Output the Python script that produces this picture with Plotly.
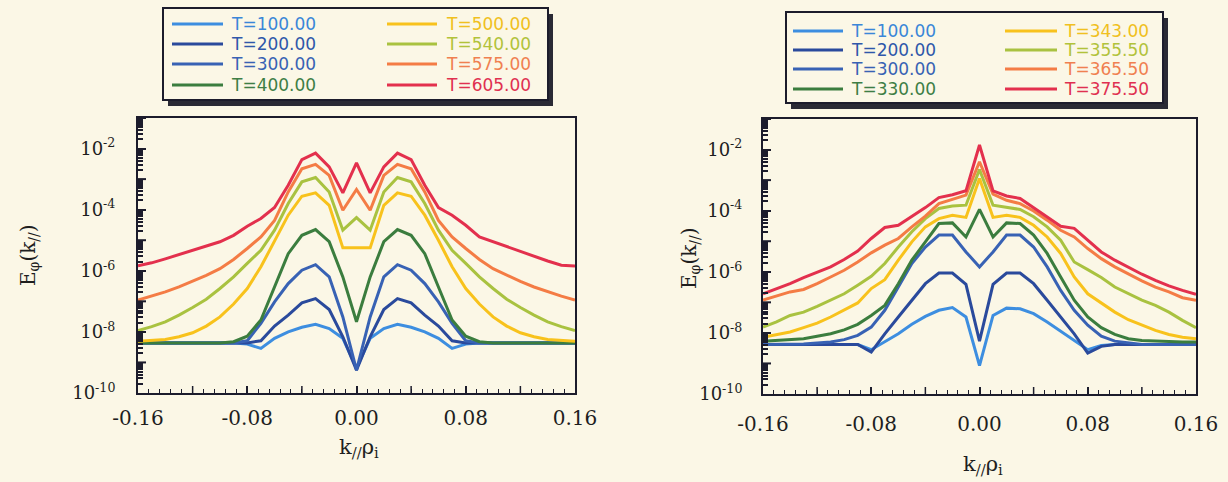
import plotly.graph_objects as go

W, H = 1228, 482

# ---------------- data ----------------
K_PAR = [-0.16, -0.15, -0.14, -0.13, -0.12, -0.11, -0.10, -0.09, -0.08, -0.07, -0.06,
         -0.05, -0.04, -0.03, -0.02, -0.01, 0.00, 0.01, 0.02, 0.03, 0.04, 0.05,
         0.06, 0.07, 0.08, 0.09, 0.10, 0.11, 0.12, 0.13, 0.14, 0.15, 0.16]

# left panel : log10 of E_phi(k//)
LEFT_LABELS = ["T=100.00", "T=200.00", "T=300.00", "T=400.00",
               "T=500.00", "T=540.00", "T=575.00", "T=605.00"]
L_T100 = [-8.36, -8.36, -8.36, -8.36, -8.36, -8.36, -8.36, -8.36, -8.40, -8.54, -8.21,
          -8.00, -7.85, -7.75, -7.89, -8.21, -9.19, -8.21, -7.89, -7.75, -7.85, -8.00,
          -8.21, -8.54, -8.40, -8.36, -8.36, -8.36, -8.36, -8.36, -8.36, -8.36, -8.36]
L_T200 = [-8.36, -8.36, -8.36, -8.36, -8.36, -8.36, -8.36, -8.36, -8.36, -8.29, -7.81,
          -7.45, -7.05, -6.91, -7.27, -8.16, -9.25, -8.16, -7.27, -6.91, -7.05, -7.45,
          -7.81, -8.29, -8.36, -8.36, -8.36, -8.36, -8.36, -8.36, -8.36, -8.36, -8.36]
L_T300 = [-8.36, -8.36, -8.36, -8.36, -8.36, -8.36, -8.36, -8.36, -8.29, -7.72, -7.02,
          -6.42, -5.98, -5.80, -6.20, -7.51, -9.25, -7.51, -6.20, -5.80, -5.98, -6.42,
          -7.02, -7.72, -8.29, -8.36, -8.36, -8.36, -8.36, -8.36, -8.36, -8.36, -8.36]
L_T400 = [-8.36, -8.36, -8.36, -8.36, -8.36, -8.36, -8.36, -8.32, -8.14, -7.61, -6.53,
          -5.44, -4.84, -4.65, -5.05, -6.20, -7.67, -6.20, -5.05, -4.65, -4.84, -5.44,
          -6.53, -7.61, -8.14, -8.32, -8.36, -8.36, -8.36, -8.36, -8.36, -8.36, -8.36]
L_T500 = [-8.31, -8.29, -8.25, -8.16, -8.03, -7.81, -7.51, -7.09, -6.58, -5.87, -5.00,
          -4.18, -3.56, -3.45, -3.86, -5.25, -5.25, -5.25, -3.86, -3.45, -3.56, -4.18,
          -5.00, -5.87, -6.58, -7.09, -7.51, -7.81, -8.03, -8.16, -8.25, -8.29, -8.31]
L_T540 = [-7.96, -7.83, -7.67, -7.45, -7.20, -6.93, -6.58, -6.20, -5.76, -5.33, -4.67,
          -3.80, -3.09, -2.95, -3.42, -4.67, -4.26, -4.67, -3.42, -2.95, -3.09, -3.80,
          -4.67, -5.33, -5.76, -6.20, -6.58, -6.93, -7.20, -7.45, -7.67, -7.83, -7.96]
L_T575 = [-6.96, -6.83, -6.69, -6.53, -6.35, -6.15, -5.93, -5.63, -5.27, -4.89, -4.35,
          -3.42, -2.66, -2.52, -2.88, -4.02, -3.34, -4.02, -2.88, -2.52, -2.66, -3.42,
          -4.35, -4.89, -5.27, -5.63, -5.93, -6.15, -6.35, -6.53, -6.69, -6.83, -6.96]
L_T605 = [-5.84, -5.74, -5.61, -5.47, -5.35, -5.20, -5.05, -4.84, -4.54, -4.29, -3.93,
          -3.20, -2.36, -2.15, -2.60, -3.45, -2.47, -3.45, -2.60, -2.15, -2.36, -3.20,
          -3.93, -4.18, -4.51, -4.89, -5.05, -5.20, -5.38, -5.52, -5.68, -5.82, -5.84]

# right panel : log10 of E_phi(k//)
RIGHT_LABELS = ["T=100.00", "T=200.00", "T=300.00", "T=330.00",
                "T=343.00", "T=355.50", "T=365.50", "T=375.50"]
R_T100 = [-8.38, -8.38, -8.38, -8.38, -8.38, -8.38, -8.38, -8.38, -8.55, -8.30, -8.03,
          -7.72, -7.46, -7.26, -7.17, -7.48, -9.07, -7.43, -7.19, -7.21, -7.37, -7.64,
          -7.94, -8.25, -8.55, -8.41, -8.38, -8.38, -8.38, -8.38, -8.38, -8.38, -8.38]
R_T200 = [-8.38, -8.38, -8.38, -8.38, -8.38, -8.38, -8.38, -8.38, -8.63, -8.03, -7.48,
          -6.93, -6.39, -6.04, -6.04, -6.41, -8.27, -6.41, -6.04, -6.04, -6.39, -6.93,
          -7.48, -8.03, -8.66, -8.44, -8.38, -8.38, -8.38, -8.38, -8.38, -8.38, -8.38]
R_T300 = [-8.38, -8.38, -8.38, -8.36, -8.33, -8.30, -8.22, -8.08, -7.81, -7.26, -6.50,
          -5.73, -5.19, -4.80, -4.80, -5.35, -5.84, -5.35, -4.80, -4.80, -5.19, -5.84,
          -6.61, -7.26, -7.75, -8.11, -8.27, -8.33, -8.38, -8.38, -8.38, -8.38, -8.38]
R_T330 = [-8.27, -8.25, -8.22, -8.19, -8.11, -8.03, -7.90, -7.72, -7.43, -7.10, -6.39,
          -5.62, -5.02, -4.42, -4.40, -4.86, -3.96, -4.86, -4.40, -4.42, -4.80, -5.40,
          -6.17, -6.93, -7.48, -7.83, -8.05, -8.19, -8.25, -8.27, -8.30, -8.30, -8.30]
R_T343 = [-8.14, -8.05, -7.97, -7.83, -7.68, -7.48, -7.26, -7.02, -6.55, -6.26, -5.62,
          -5.02, -4.53, -4.26, -4.15, -4.22, -2.95, -4.22, -4.15, -4.22, -4.48, -4.86,
          -5.40, -6.17, -6.72, -7.02, -7.32, -7.57, -7.75, -7.92, -8.05, -8.14, -8.19]
R_T355 = [-7.81, -7.64, -7.43, -7.32, -7.13, -6.93, -6.72, -6.44, -6.15, -5.73, -5.19,
          -4.69, -4.26, -3.93, -3.85, -3.82, -2.65, -3.82, -3.90, -3.96, -4.20, -4.53,
          -4.97, -5.68, -5.93, -6.19, -6.50, -6.72, -6.93, -7.10, -7.32, -7.59, -7.83]
R_T365 = [-6.93, -6.80, -6.66, -6.58, -6.39, -6.17, -5.95, -5.68, -5.38, -5.13, -4.91,
          -4.53, -4.18, -3.77, -3.63, -3.49, -2.40, -3.46, -3.66, -3.77, -4.01, -4.31,
          -4.64, -4.86, -5.24, -5.57, -5.84, -6.08, -6.30, -6.50, -6.66, -6.85, -6.93]
R_T375 = [-6.72, -6.55, -6.39, -6.19, -6.01, -5.84, -5.60, -5.32, -4.91, -4.55, -4.48,
          -4.20, -3.90, -3.57, -3.48, -3.35, -1.85, -3.35, -3.52, -3.60, -3.90, -4.20,
          -4.51, -4.58, -4.97, -5.35, -5.62, -5.86, -6.08, -6.28, -6.46, -6.61, -6.74]

LEFT_SERIES = [L_T100, L_T200, L_T300, L_T400, L_T500, L_T540, L_T575, L_T605]
RIGHT_SERIES = [R_T100, R_T200, R_T300, R_T330, R_T343, R_T355, R_T365, R_T375]

# labelled ticks
X_TICKS = [-0.16, -0.08, 0.00, 0.08, 0.16]
X_TICKTEXT = ["-0.16", "-0.08", "0.00", "0.08", "0.16"]
Y_TICK_EXP = [-10, -8, -6, -4, -2]
Y_TICKTEXT = ["10<sup>-10</sup>", "10<sup>-8</sup>", "10<sup>-6</sup>",
              "10<sup>-4</sup>", "10<sup>-2</sup>"]
# unlabelled long ticks
X_MID_TICKS = [-0.12, -0.04, 0.04, 0.12]
Y_MID_EXP = [-9, -7, -5, -3, -1]

# minor tick positions (axis furniture, not data)
X_MINOR = [round(-0.16 + 0.008 * i, 3) for i in range(41)]
Y_MINOR = [m * 10.0 ** d for d in range(-10, -1) for m in range(2, 10)]

# ---------------- style ----------------
LINE_COLORS = ["#3d8ee0", "#2a4a9c", "#3862b4", "#3b7d3e",
               "#f8c21c", "#a9c240", "#f47c45", "#e3304d"]
TEXT_COLORS = ["#3a86d8", "#2f57aa", "#3862b4", "#3e7e45",
               "#f0c020", "#b2c23a", "#f08050", "#e03050"]
BG = "#fbf7e6"
FRAME = "#1c1c2c"
TXT = "#1e1e1e"
SERIF = "DejaVu Serif"
SANS = "DejaVu Sans"

fig = go.Figure()

for axis_id, series in (("", LEFT_SERIES), ("2", RIGHT_SERIES)):
    for vals, col in zip(series, LINE_COLORS):
        fig.add_trace(go.Scatter(
            x=K_PAR, y=[10 ** v for v in vals], mode="lines",
            line=dict(color=col, width=3),
            xaxis="x" + axis_id, yaxis="y" + axis_id, showlegend=False,
            hoverinfo="skip"))


def xaxis(domain, anchor, standoff):
    return dict(domain=domain, anchor=anchor, range=[-0.16, 0.16], automargin=False,
                showline=True, mirror=True, linecolor=FRAME, linewidth=2,
                ticks="inside", ticklen=7, tickwidth=1.5, tickcolor=FRAME,
                tickmode="array", tickvals=X_TICKS, ticktext=X_TICKTEXT,
                ticklabelstandoff=standoff,
                tickfont=dict(family=SERIF, size=20, color=TXT),
                minor=dict(tickmode="array", tickvals=X_MINOR, ticks="inside",
                           ticklen=4, tickwidth=1.2, tickcolor=FRAME, showgrid=False),
                showgrid=False, zeroline=False)


def yaxis(domain, anchor, standoff):
    return dict(domain=domain, anchor=anchor, type="log", range=[-10, -1],
                automargin=False,
                showline=True, mirror=True, linecolor=FRAME, linewidth=2,
                ticks="inside", ticklen=8, tickwidth=2, tickcolor=FRAME,
                tickmode="array", tickvals=[10.0 ** d for d in Y_TICK_EXP],
                ticktext=Y_TICKTEXT, ticklabelstandoff=standoff,
                tickfont=dict(family=SERIF, size=18, color=TXT),
                minor=dict(tickmode="array", tickvals=Y_MINOR, ticks="inside",
                           ticklen=4.5, tickwidth=1.5, tickcolor=FRAME, showgrid=False),
                showgrid=False, zeroline=False)


fig.update_layout(
    template="none",
    width=W, height=H, autosize=False, margin=dict(l=0, r=0, t=0, b=0, pad=0),
    paper_bgcolor=BG, plot_bgcolor=BG, showlegend=False,
    xaxis=xaxis([138 / W, 575 / W], "y", 6),
    yaxis=yaxis([1 - 393 / H, 1 - 118 / H], "x", 17),
    xaxis2=xaxis([763 / W, 1196 / W], "y2", 11),
    yaxis2=yaxis([1 - 394 / H, 1 - 119 / H], "x2", 15),
)


def px(x, y):
    return x / W, 1 - y / H


shapes = []
annotations = []

# unlabelled long ticks, placed through the axes' own scales
for ax_x, ax_y, plot_h, plot_w in (("x", "y", 275, 437), ("x2", "y2", 275, 433)):
    for v in X_MID_TICKS:
        shapes.append(dict(type="line", xref=ax_x, yref=ax_y + " domain",
                           x0=v, x1=v, y0=0, y1=7 / plot_h,
                           line=dict(color=FRAME, width=1.5), layer="above"))
    for e in Y_MID_EXP:
        shapes.append(dict(type="line", xref=ax_x + " domain", yref=ax_y,
                           x0=0, x1=8 / plot_w, y0=10.0 ** e, y1=10.0 ** e,
                           line=dict(color=FRAME, width=2), layer="above"))


def legend(x0, y0, x1, y1, labels, rows, col_line, col_text):
    # shadow
    a, b = px(x0 + 5, y0 + 6)
    c, d = px(x1 + 5, y1 + 6)
    shapes.append(dict(type="rect", xref="paper", yref="paper", x0=a, y0=b, x1=c, y1=d,
                       fillcolor="#2a2a35", line=dict(width=0), layer="above"))
    a, b = px(x0, y0)
    c, d = px(x1, y1)
    shapes.append(dict(type="rect", xref="paper", yref="paper", x0=a, y0=b, x1=c, y1=d,
                       fillcolor=BG, line=dict(color=FRAME, width=2), layer="above"))
    for i, lab in enumerate(labels):
        col = i // 4
        row = i % 4
        yy = rows[row]
        lx0, lx1 = col_line[col]
        p0 = px(lx0, yy)
        p1 = px(lx1, yy)
        shapes.append(dict(type="line", xref="paper", yref="paper",
                           x0=p0[0], y0=p0[1], x1=p1[0], y1=p1[1],
                           line=dict(color=LINE_COLORS[i], width=3), layer="above"))
        t = px(col_text[col], yy)
        annotations.append(dict(xref="paper", yref="paper", x=t[0], y=t[1],
                                xanchor="left", yanchor="middle", showarrow=False,
                                text=lab, font=dict(family=SANS, size=17,
                                                    color=TEXT_COLORS[i])))


legend(163, 8, 548, 100, LEFT_LABELS, [24, 44, 64, 85],
       [(172, 223), (387, 437)], [229, 444])
legend(786, 12, 1163, 103, RIGHT_LABELS, [31, 50, 69, 89],
       [(793, 843), (1005, 1057)], [849, 1062])

# axis titles
for (x, y) in ((29, 255), (690, 258)):
    a, b = px(x, y)
    annotations.append(dict(xref="paper", yref="paper", x=a, y=b, showarrow=False,
                            textangle=-90, xanchor="center", yanchor="middle",
                            text="E<sub>φ</sub>(k<sub>//</sub>)",
                            font=dict(family=SERIF, size=20, color=TXT)))
for (x, y) in ((359, 448), (983, 465)):
    a, b = px(x, y)
    annotations.append(dict(xref="paper", yref="paper", x=a, y=b, showarrow=False,
                            xanchor="center", yanchor="middle",
                            text="k<sub>//</sub>ρ<sub>i</sub>",
                            font=dict(family=SERIF, size=21, color=TXT)))

fig.update_layout(shapes=shapes, annotations=annotations)
fig.write_html("out.html")
